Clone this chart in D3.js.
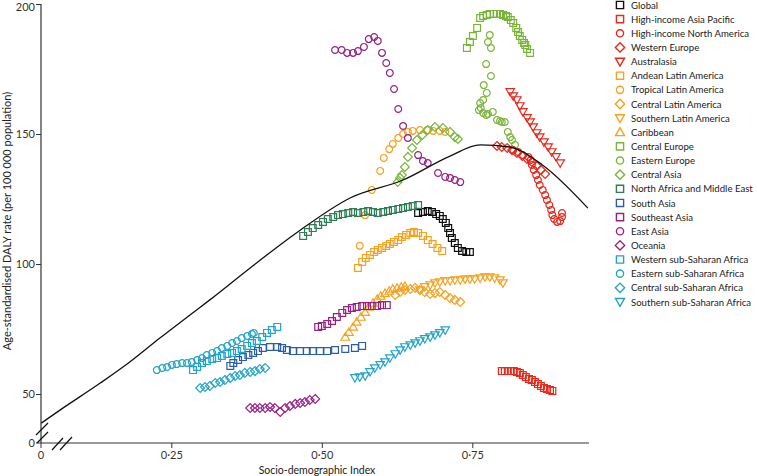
<!DOCTYPE html>
<html><head><meta charset="utf-8">
<script src="https://cdn.jsdelivr.net/npm/d3@7"></script>
<style>body{margin:0;background:#fff}svg{display:block}text{font-family:Lato,"Open Sans",sans-serif}</style>
</head><body>
<svg id="c" width="757" height="476"></svg>
<script>
// ---- data ----
const xTicks = [0.25, 0.50, 0.75];
const xTickLabels = ["0·25", "0·50", "0·75"];
const yTicks = [50, 100, 150, 200];
const legendNames = ["Global","High-income Asia Pacific","High-income North America","Western Europe","Australasia","Andean Latin America","Tropical Latin America","Central Latin America","Southern Latin America","Caribbean","Central Europe","Eastern Europe","Central Asia","North Africa and Middle East","South Asia","Southeast Asia","East Asia","Oceania","Western sub-Saharan Africa","Eastern sub-Saharan Africa","Central sub-Saharan Africa","Southern sub-Saharan Africa"];
const legendColors = ["#111111","#e8291c","#e8291c","#e8291c","#e8291c","#f5a21e","#f5a21e","#f5a21e","#f5a21e","#f5a21e","#7ab53a","#7ab53a","#7ab53a","#2d7d55","#2a5ea8","#982185","#982185","#982185","#22a3c8","#22a3c8","#22a3c8","#22a3c8"];
const legendShapes = ["square","square","circle","diamond","tdown","square","circle","diamond","tdown","tup","square","circle","diamond","square","square","square","circle","diamond","square","circle","diamond","tdown"];

const curveSDI = [0.034,0.065,0.132,0.181,0.231,0.281,0.314,0.381,0.464,0.547,0.635,0.713,0.763,0.812,0.867,0.942];
const curveVal = [38.8,43.8,54.2,62.3,71.5,80.4,86.2,98.5,113,125.4,132.3,141.5,145.8,145,138,121.5];

const globalSDI = [0.660,0.668,0.676,0.683,0.690,0.696,0.701,0.706,0.710,0.713,0.716,0.721,0.726,0.733,0.740,0.746];
const globalVal = [119.6,120,120.4,120,119.2,118.5,117.3,115.8,113.8,111.9,110,108.1,106.2,105,104.6,104.6];
const hiapSDI = [0.799,0.804,0.809,0.814,0.819,0.824,0.829,0.834,0.839,0.844,0.849,0.854,0.859,0.864,0.869,0.874,0.879,0.883];
const hiapVal = [58.8,58.8,58.8,58.8,58.8,58.5,58.1,57.3,56.5,55.8,55.4,54.6,53.8,53.1,52.3,51.9,51.5,51.2];
const hinaSDI = [0.818,0.826,0.834,0.843,0.847,0.849,0.852,0.856,0.859,0.862,0.867,0.871,0.874,0.878,0.881,0.883,0.886,0.891,0.896,0.899,0.899];
const hinaVal = [143.8,143.1,141.9,141.2,140,138.1,136.2,134.2,132.3,130.4,128.5,126.5,124.6,122.7,120.8,118.8,117.3,116.2,116.5,118.1,119.6];
const weurSDI = [0.791,0.799,0.808,0.816,0.824,0.833,0.841,0.849,0.857,0.864,0.871];
const weurVal = [145.4,145,144.6,143.8,142.7,141.5,140.4,139.2,137.7,136.2,134.6];
const ausSDI = [0.813,0.818,0.824,0.829,0.834,0.841,0.846,0.851,0.857,0.862,0.869,0.876,0.882,0.889,0.896];
const ausVal = [166.2,164.6,163.1,160.8,158.5,156.2,154.6,152.7,150.4,148.8,146.9,145,143.1,141.2,138.8];
const andSDI = [0.560,0.567,0.573,0.580,0.587,0.593,0.600,0.607,0.613,0.620,0.627,0.633,0.640,0.647,0.653,0.660,0.668,0.676,0.684,0.692,0.700];
const andVal = [98.5,100.8,102.3,103.5,104.6,105.4,106.2,106.9,107.7,108.5,109.2,110.4,111.2,111.9,112.3,111.9,110.8,109.2,107.7,106.2,105];
const tropSDI = [0.563,0.572,0.583,0.597,0.603,0.612,0.618,0.627,0.635,0.643,0.651,0.663,0.675,0.685,0.696,0.705];
const tropVal = [107,118.8,128.5,135.8,140.8,144.2,146.2,148.5,150,150.8,151.2,151.5,151.5,151.2,151.2,150.8];
const cenlaSDI = [0.622,0.630,0.638,0.647,0.655,0.663,0.671,0.680,0.688,0.696,0.705,0.713,0.721,0.730];
const cenlaVal = [88.1,89.2,90,90.4,90.8,90,89.2,88.5,88.8,89.2,88.1,86.9,86.2,85.4];
const soulaSDI = [0.663,0.671,0.680,0.688,0.696,0.705,0.713,0.721,0.730,0.738,0.746,0.754,0.763,0.771,0.779,0.787,0.796,0.801];
const soulaVal = [90,91.2,91.9,92.7,93.1,93.5,93.5,93.8,93.8,94.2,94.2,94.2,94.6,95,95,94.6,93.8,92.7];
const cariSDI = [0.539,0.545,0.552,0.558,0.565,0.572,0.578,0.585,0.592,0.598,0.605,0.612,0.618,0.625,0.632,0.638];
const cariVal = [71.9,73.8,75.8,77.7,79.6,81.5,83.5,85,86.5,87.7,88.8,89.6,90.4,90.8,91.2,91.5];
const ceurSDI = [0.741,0.746,0.751,0.758,0.763,0.768,0.774,0.779,0.786,0.791,0.796,0.801,0.806,0.809,0.814,0.818,0.823,0.826,0.829,0.833,0.836,0.838,0.841,0.846];
const ceurVal = [183.1,185.4,187.7,190.8,194.6,195.4,195.8,196.2,196.2,196.2,196.2,195.8,195.4,195,193.8,192.7,190.8,189.2,187.7,186.2,185,184.2,182.7,181.2];
const eeurSDI = [0.779,0.776,0.781,0.773,0.781,0.769,0.774,0.768,0.763,0.761,0.764,0.768,0.773,0.776,0.784,0.791,0.796,0.799,0.804,0.809,0.813,0.816,0.821];
const eeurVal = [188.1,185.4,183.1,176.9,172.3,168.8,165.8,163.1,161.9,159.2,160,158.1,157.3,157.7,158.5,155.4,155,154.6,154.6,150.8,148.8,147.7,145.8];
const casSDI = [0.626,0.630,0.633,0.638,0.643,0.650,0.658,0.667,0.676,0.688,0.701,0.713,0.721,0.726];
const casVal = [131.5,133.1,134.2,137.3,141.2,144.6,147.7,149.6,151.5,152.7,152.3,150.8,148.8,148.1];
const nameSDI = [0.469,0.477,0.485,0.494,0.502,0.510,0.519,0.527,0.535,0.544,0.552,0.560,0.569,0.577,0.585,0.593,0.602,0.610,0.618,0.627,0.635,0.643,0.651,0.660];
const nameVal = [110.8,112.3,113.8,115,116.2,117.3,118.1,118.8,119.2,119.6,120,119.6,120,120.4,120,119.6,120,120.4,120.8,121.2,121.5,121.9,122.3,122.7];
const sasSDI = [0.348,0.353,0.361,0.369,0.378,0.386,0.394,0.402,0.414,0.426,0.434,0.442,0.452,0.464,0.475,0.485,0.497,0.509,0.522,0.539,0.555,0.567];
const sasVal = [60.8,61.9,63.1,64.2,65,65.8,66.5,67.7,68.1,68.1,67.7,66.9,66.5,66.5,66.5,66.5,66.5,66.5,66.9,67.3,67.7,68.5];
const seaSDI = [0.494,0.500,0.509,0.517,0.525,0.534,0.542,0.550,0.558,0.567,0.575,0.583,0.592,0.600,0.608];
const seaVal = [75.8,76.2,76.9,78.1,79.6,81.2,82.3,83.1,83.5,83.8,83.8,83.8,83.8,84.2,84.2];
const easSDI = [0.522,0.533,0.542,0.552,0.560,0.570,0.578,0.587,0.593,0.600,0.607,0.613,0.620,0.627,0.635,0.643,0.660,0.668,0.676,0.693,0.705,0.713,0.721,0.730];
const easVal = [182.3,182.3,181.2,181.2,181.9,183.5,186.5,187.3,185.8,181.2,177.3,173.5,167.3,159.6,153.1,148.5,141.9,139.6,138.8,135,133.5,133.1,132.3,131.5];
const oceSDI = [0.381,0.389,0.397,0.406,0.414,0.422,0.431,0.439,0.447,0.456,0.464,0.472,0.480,0.489];
const oceVal = [44.6,44.6,44.6,44.6,45,44.6,43.1,44.6,45.4,46.2,46.5,46.9,47.7,48.1];
const wssaSDI = [0.286,0.293,0.301,0.309,0.318,0.326,0.334,0.343,0.351,0.359,0.367,0.376,0.384,0.392,0.401,0.409,0.417,0.426];
const wssaVal = [59.2,60.4,61.9,62.7,63.5,63.8,64.6,65.4,65.8,66.5,67.3,68.5,69.6,70.4,71.9,73.5,74.6,75.8];
const essaSDI = [0.226,0.235,0.243,0.251,0.259,0.268,0.276,0.284,0.293,0.301,0.309,0.318,0.326,0.334,0.343,0.351,0.359,0.367,0.376,0.384,0.387];
const essaVal = [59.2,60,60.4,61.2,61.5,61.9,61.9,62.3,63.1,63.8,65,65.8,66.5,67.7,68.5,69.6,70.4,71.5,72.3,73.1,73.5];
const cssaSDI = [0.298,0.306,0.314,0.323,0.331,0.339,0.348,0.356,0.364,0.372,0.381,0.389,0.397,0.406];
const cssaVal = [52.3,52.7,53.1,54.2,54.6,55.4,56.2,56.9,57.3,58.1,58.5,58.8,59.6,60];
const sssaSDI = [0.555,0.563,0.572,0.580,0.588,0.597,0.605,0.613,0.622,0.630,0.638,0.647,0.655,0.663,0.671,0.680,0.688,0.696,0.705];
const sssaVal = [56.2,56.5,56.9,58.5,60,61.2,62.3,63.8,65.4,66.9,68.1,68.8,69.6,70.4,71.2,71.9,72.7,73.5,74.6];

const seriesSDI = [globalSDI,hiapSDI,hinaSDI,weurSDI,ausSDI,andSDI,tropSDI,cenlaSDI,soulaSDI,cariSDI,ceurSDI,eeurSDI,casSDI,nameSDI,sasSDI,seaSDI,easSDI,oceSDI,wssaSDI,essaSDI,cssaSDI,sssaSDI];
const seriesVal = [globalVal,hiapVal,hinaVal,weurVal,ausVal,andVal,tropVal,cenlaVal,soulaVal,cariVal,ceurVal,eeurVal,casVal,nameVal,sasVal,seaVal,easVal,oceVal,wssaVal,essaVal,cssaVal,sssaVal];

// ---- chart ----
const svg = d3.select("#c");
const x = d3.scaleLinear().domain([0.25, 0.75]).range([171.3, 472.3]);
const y = d3.scaleLinear().domain([50, 200]).range([394, 4]);
const x0 = 41, y0 = 443, xEnd = 589;

function shapePath(s, r) {
  if (s === "square") return `M${-r},${-r}H${r}V${r}H${-r}Z`;
  if (s === "circle") return `M${r},0A${r},${r} 0 1,1 ${-r},0A${r},${r} 0 1,1 ${r},0Z`;
  if (s === "diamond") { const d = r * 1.3; return `M0,${-d}L${d},0L0,${d}L${-d},0Z`; }
  if (s === "tdown") { const d = r * 1.25; return `M${-d},${-d*0.75}L${d},${-d*0.75}L0,${d}Z`; }
  if (s === "tup") { const d = r * 1.25; return `M${-d},${d*0.75}L${d},${d*0.75}L0,${-d}Z`; }
}

// axes
const axG = svg.append("g").attr("stroke", "#333").attr("stroke-width", 1.2);
axG.append("line").attr("x1", x0).attr("x2", x0).attr("y1", y0).attr("y2", 4);
axG.append("line").attr("x1", x0).attr("x2", xEnd).attr("y1", y0).attr("y2", y0);
const yAxis = d3.axisLeft(y).tickValues(yTicks).tickSize(5).tickFormat(d3.format("d"));
const gy = svg.append("g").attr("transform", `translate(${x0},0)`).call(yAxis);
gy.select(".domain").remove();
gy.selectAll("text").attr("font-size", 11).attr("fill", "#333").attr("x", -6);
gy.selectAll("line").attr("stroke", "#333");
gy.select(".tick:last-of-type text").attr("dy", "0.6em");
const xAxis = d3.axisBottom(x).tickValues(xTicks).tickSize(5).tickFormat((d, i) => xTickLabels[i]);
const gx = svg.append("g").attr("transform", `translate(0,${y0})`).call(xAxis);
gx.select(".domain").remove();
gx.selectAll("text").attr("font-size", 11).attr("fill", "#333").attr("dy", "0.71em");
gx.selectAll("line").attr("stroke", "#333");
svg.append("line").attr("x1", x0 - 5).attr("x2", x0).attr("y1", y0).attr("y2", y0).attr("stroke", "#333");
svg.append("text").attr("x", x0 - 6).attr("y", y0 + 4).attr("text-anchor", "end").attr("font-size", 11).attr("fill", "#333").text("0");
svg.append("line").attr("x1", x0).attr("x2", x0).attr("y1", y0).attr("y2", y0 + 5).attr("stroke", "#333");
svg.append("text").attr("x", x0).attr("y", y0 + 16).attr("text-anchor", "middle").attr("font-size", 11).attr("fill", "#333").text("0");
const br = svg.append("g").attr("stroke", "#111").attr("stroke-width", 1.2);
[[36,435,48,423],[37,443,48,432],[52,450,63,438],[60,450,72,437]].forEach(s =>
  br.append("line").attr("x1", s[0]).attr("y1", s[1]).attr("x2", s[2]).attr("y2", s[3]));

svg.append("text").attr("x", 317).attr("y", 474).attr("text-anchor", "middle").attr("font-size", 10.5).attr("fill", "#222").text("Socio-demographic Index");
svg.append("text").attr("transform", "translate(11,221) rotate(-90)").attr("text-anchor", "middle").attr("font-size", 11).attr("fill", "#222").text("Age-standardised DALY rate (per 100 000 population)");

// markers
const mg = svg.append("g").attr("fill", "none").attr("stroke-width", 1.2);
seriesSDI.forEach((arr, i) => {
  const pts = arr.map((s, j) => [s, seriesVal[i][j]]);
  mg.append("g").selectAll("path").data(pts).join("path")
    .attr("transform", d => `translate(${x(d[0])},${y(d[1])})`)
    .attr("d", shapePath(legendShapes[i], 3.4))
    .attr("stroke", legendColors[i]);
});

const line = d3.line().x(d => x(d[0])).y(d => y(d[1])).curve(d3.curveMonotoneX);
svg.append("path").datum(curveSDI.map((s, i) => [s, curveVal[i]]))
  .attr("d", line).attr("fill", "none").attr("stroke", "#111").attr("stroke-width", 1.3);

// legend
const lg = svg.append("g");
legendNames.forEach((n, i) => {
  const yy = 5 + i * 14.14;
  lg.append("path").attr("transform", `translate(620,${yy})`).attr("d", shapePath(legendShapes[i], 3.6))
    .attr("fill", "none").attr("stroke", legendColors[i]).attr("stroke-width", 1.4);
  lg.append("text").attr("x", 631).attr("y", yy + 3.6).attr("font-size", 9.6).attr("fill", "#222").text(n);
});
</script>
</body></html>
